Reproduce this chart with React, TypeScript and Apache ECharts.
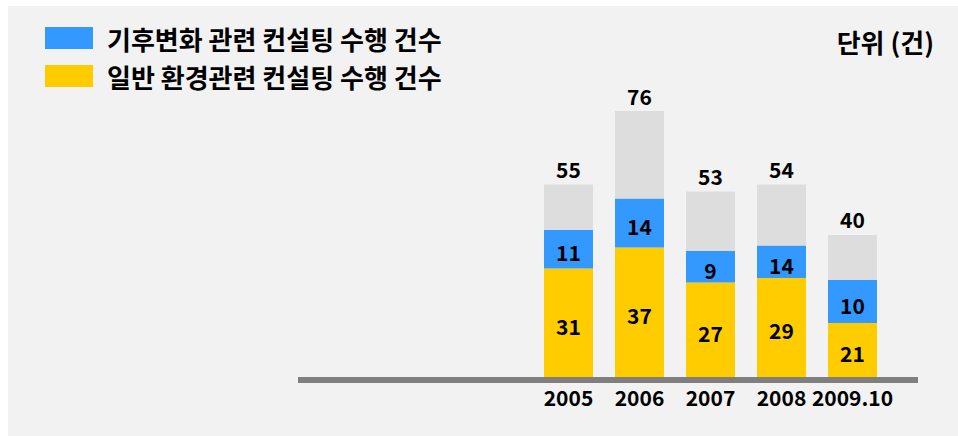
import React, { useEffect, useRef } from 'react';
import * as echarts from 'echarts';

const categories = ['2005', '2006', '2007', '2008', '2009.10'];
// numbers printed in the chart
const generalCounts = [31, 37, 27, 29, 21];
const climateCounts = [11, 14, 9, 14, 10];
const totalCounts = [55, 76, 53, 54, 40];
// segment heights as they are drawn in the reference picture
const generalBarHeights = [31, 37, 27, 28.3, 15.4];
const climateBarHeights = [11, 14, 9, 9.3, 12.3];
const totalBarHeights = [55, 76, 53, 55, 40.6];
const legendNames = ['기후변화 관련 컨설팅 수행 건수', '일반 환경관련 컨설팅 수행 건수'];
const unitLabel = '단위 (건)';

const FONT = '"Noto Sans CJK KR", "Noto Sans", sans-serif';

export default function App() {
  const ref = useRef<HTMLDivElement>(null);
  useEffect(() => {
    document.body.style.margin = '0';
    if (!ref.current) return;
    const chart = echarts.init(ref.current, null, { renderer: 'svg' });
    const restHeights = totalBarHeights.map((t, i) => +(t - generalBarHeights[i] - climateBarHeights[i]).toFixed(2));
    const labelStyle = { fontFamily: FONT, fontSize: 21, fontWeight: 'bold' as const, color: '#000' };
    chart.setOption({
      animation: false,
      backgroundColor: '#f2f2f2',
      textStyle: { fontFamily: FONT },
      legend: {
        data: [legendNames[0], legendNames[1]],
        orient: 'vertical',
        left: 37,
        top: 19,
        padding: 0,
        itemWidth: 48,
        itemHeight: 22,
        itemGap: 12,
        icon: 'rect',
        selectedMode: false,
        textStyle: { fontFamily: FONT, fontSize: 26, fontWeight: 'bold', color: '#000', padding: [0, 0, 0, 9] },
      },
      grid: { left: 525, width: 355, top: 91, bottom: 59 },
      xAxis: {
        type: 'category',
        data: categories,
        axisLine: { show: false },
        axisTick: { show: false },
        axisLabel: { ...labelStyle, margin: 9, interval: 0 },
      },
      yAxis: { type: 'value', min: 0, max: 80, show: false },
      graphic: [
        {
          type: 'line',
          shape: { x1: 290, y1: 374, x2: 910, y2: 374 },
          style: { stroke: '#7f7f7f', lineWidth: 6 },
          z: 10,
        },
        {
          type: 'text',
          x: 926,
          y: 35,
          style: {
            text: unitLabel,
            align: 'right',
            verticalAlign: 'middle',
            font: `bold 26px ${FONT}`,
            fill: '#000',
          },
        },
      ],
      series: [
        {
          name: legendNames[1],
          type: 'bar',
          stack: 'total',
          barWidth: 49,
          data: generalBarHeights,
          itemStyle: { color: '#ffcc00' },
          label: {
            show: true,
            position: 'inside',
            offset: [0, 3],
            ...labelStyle,
            formatter: (p: any) => String(generalCounts[p.dataIndex]),
          },
        },
        {
          name: legendNames[0],
          type: 'bar',
          stack: 'total',
          barWidth: 49,
          data: climateBarHeights,
          itemStyle: { color: '#3399ff' },
          label: {
            show: true,
            position: 'inside',
            offset: [0, 3],
            ...labelStyle,
            formatter: (p: any) => String(climateCounts[p.dataIndex]),
          },
        },
        {
          name: 'rest',
          type: 'bar',
          stack: 'total',
          barWidth: 49,
          data: restHeights,
          itemStyle: { color: '#dddddd' },
          label: {
            show: true,
            position: 'top',
            distance: 5,
            ...labelStyle,
            formatter: (p: any) => String(totalCounts[p.dataIndex]),
          },
        },
      ],
    });
    return () => chart.dispose();
  }, []);
  return (
    <div style={{ position: 'relative', width: 958, height: 436, background: '#fff' }}>
      <div ref={ref} style={{ position: 'absolute', left: 8, top: 6, width: 950, height: 430 }} />
    </div>
  );
}
